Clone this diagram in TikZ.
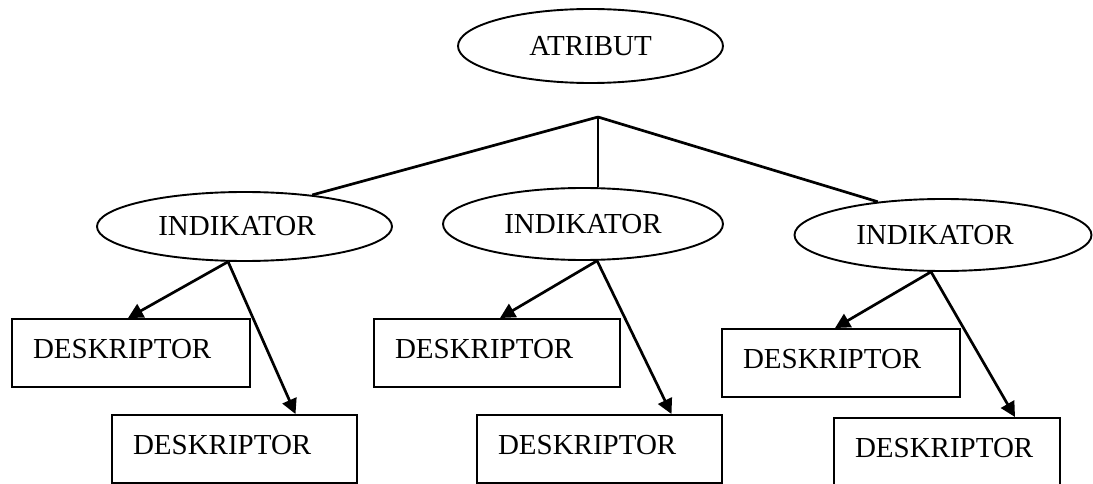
\documentclass[tikz,border=0pt]{standalone}
\usepackage{fontspec}
\setmainfont{Liberation Serif}
\usetikzlibrary{arrows.meta,shapes.geometric}
\begin{document}
\begin{tikzpicture}[x=1pt,y=-1pt,
  every node/.style={font=\fontsize{29}{34}\selectfont},
  oval/.style={draw, ellipse, line width=1.9pt, inner sep=0pt},
  dbox/.style={draw, rectangle, line width=1.9pt, inner xsep=21pt, inner ysep=0pt,
               text height=39pt, text depth=29pt, align=left},
  link/.style={line width=2.7pt},
  arr/.style={line width=2.7pt, -{Triangle[length=15pt,width=15pt]}}
]
\useasboundingbox (0,0) rectangle (1093,484);
\node[oval, minimum width=265pt, minimum height=74pt] (attr) at (590.5,46) {ATRIBUT};
\coordinate (j) at (598,117);
\node[oval, minimum width=295pt, minimum height=69pt] (ind1) at (244.5,226.5) {INDIKATOR\hspace*{15pt}};
\node[oval, minimum width=280pt, minimum height=72pt] (ind2) at (583,224) {INDIKATOR};
\node[oval, minimum width=297pt, minimum height=72pt] (ind3) at (943,235) {INDIKATOR\hspace*{16pt}};

\node[dbox, text width=196pt] (d1) at (131,353) {DESKRIPTOR};
\node[dbox, text width=203pt] (d2) at (234.5,449) {DESKRIPTOR};
\node[dbox, text width=204pt] (d3) at (497,353) {DESKRIPTOR};
\node[dbox, text width=203pt] (d4) at (599.5,449) {DESKRIPTOR};
\node[dbox, text width=196pt] (d5) at (841,363) {DESKRIPTOR};
\node[dbox, text width=184pt] (d6) at (947,452) {DESKRIPTOR};

\draw[link] (j) -- (ind1.25);
\draw[link] (j) -- (j |- ind2.north);
\draw[link] (j) -- (ind3.153);

\coordinate (o1) at (ind1.245);
\coordinate (o2) at (ind2.291);
\coordinate (o3) at (ind3.252);

\draw[arr] (o1) -- ([xshift=-3pt]d1.north);
\draw[arr] (o1) -- ([xshift=61pt]d2.north);
\draw[arr] (o2) -- ([xshift=3pt]d3.north);
\draw[arr] (o2) -- ([xshift=72pt]d4.north);
\draw[arr] (o3) -- ([xshift=-6pt]d5.north);
\draw[arr] (o3) -- ([xshift=68pt]d6.north);
\end{tikzpicture}
\end{document}
